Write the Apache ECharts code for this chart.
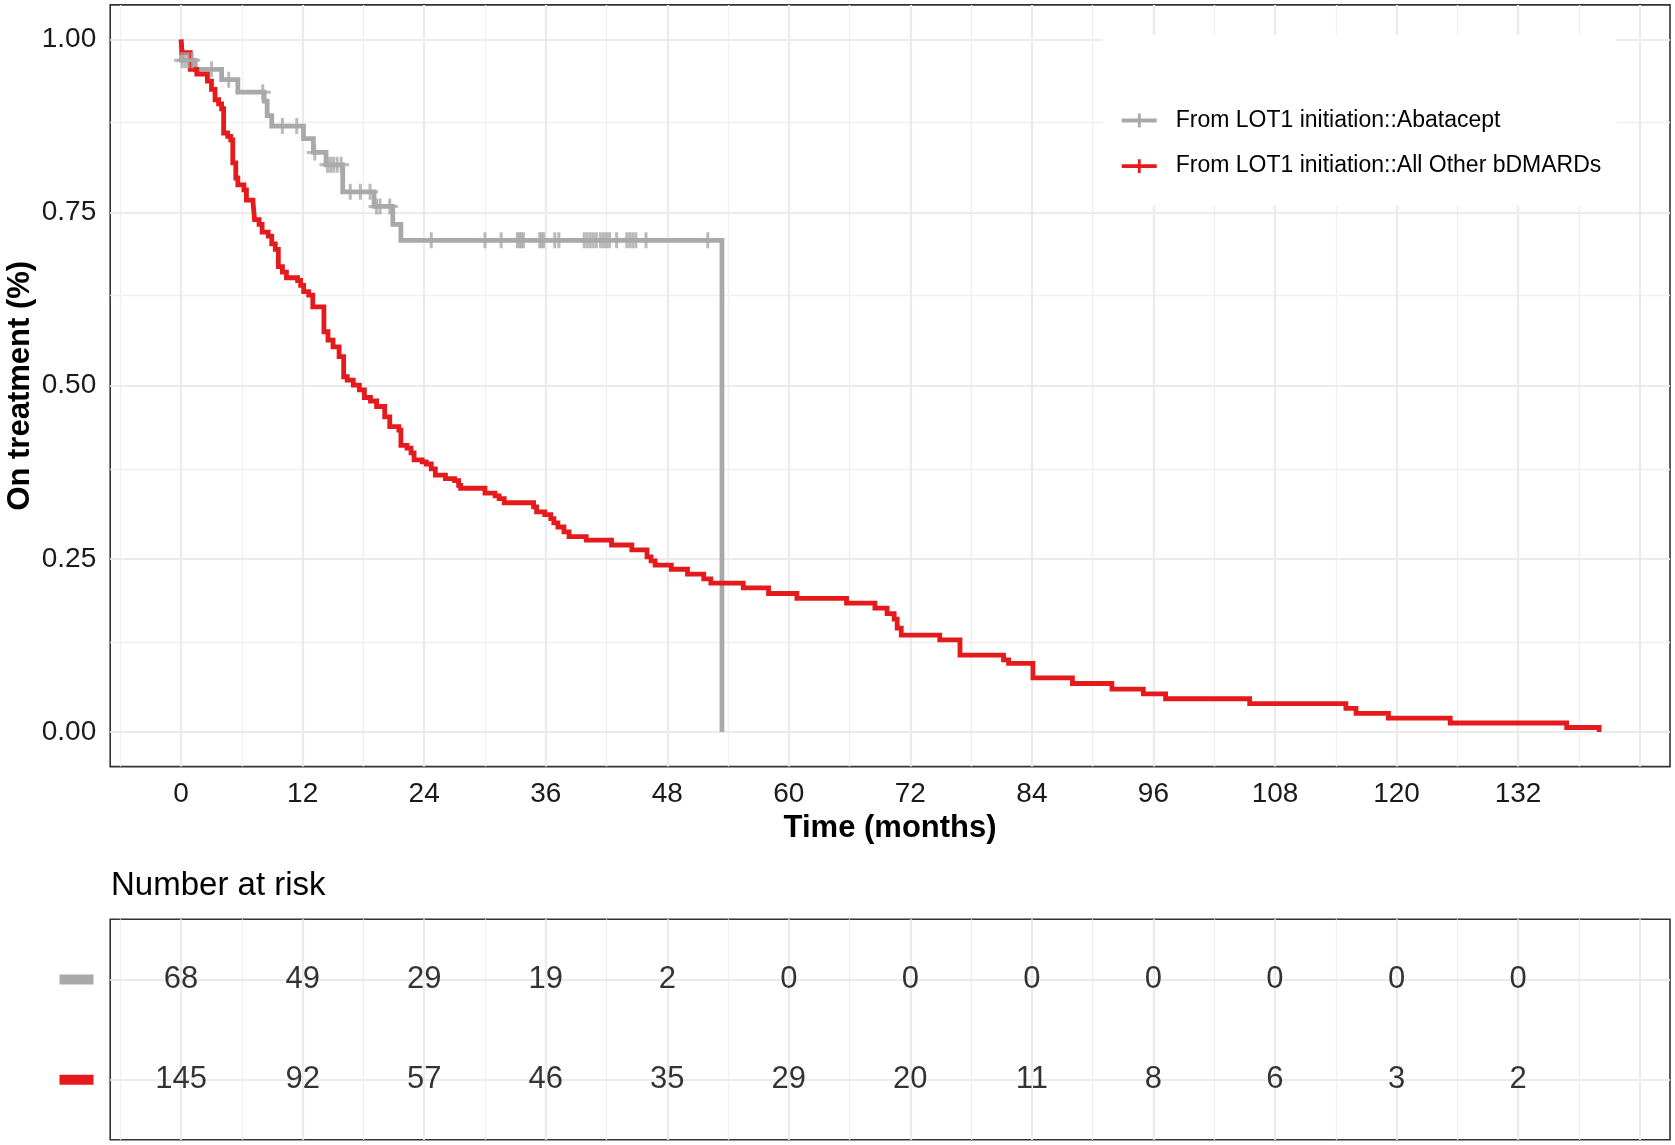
<!DOCTYPE html>
<html><head><meta charset="utf-8">
<script src="https://cdn.jsdelivr.net/npm/echarts@6/dist/echarts.min.js"></script>
<style>html,body{margin:0;padding:0;background:#fff}#c{width:1675px;height:1145px}</style>
</head><body><div id="c"></div>
<script>
// ---- tick / grid values ----
const xTicks = [0,12,24,36,48,60,72,84,96,108,120,132];
const yTicks = [0,0.25,0.5,0.75,1];
const xMajorGrid = [0,12,24,36,48,60,72,84,96,108,120,132,144];
const xMinorGrid = [-6,6,18,30,42,54,66,78,90,102,114,126,138];
const yMinorGrid = [0.125,0.375,0.625,0.875];
const riskRows = [1,2];

// ---- Kaplan-Meier: Abatacept (grey) ----
const abaTimes = [0,0.05,1.4,4.0,5.6,8.2,8.5,8.95,12.08,13.06,14.31,15.96,19.05,20.9,21.7,53.4];
const abaSurv  = [1.0,0.970,0.957,0.942,0.924,0.911,0.890,0.875,0.857,0.837,0.819,0.780,0.759,0.733,0.710,0.0];
const abaCensorTimes = [0.1,0.4,0.7,1.1,3.0,4.7,8.06,10.0,11.42,13.2,14.45,14.75,15.05,15.4,15.8,16.7,17.7,18.66,19.3,19.64,20.6,24.7,30.0,31.6,33.2,33.4,33.6,33.8,35.4,35.6,35.8,36.9,37.3,39.8,40.1,40.4,40.7,41.0,41.4,41.7,42.0,42.3,43.0,44.0,44.3,44.6,44.9,45.9,52.0];

// ---- Kaplan-Meier: All Other bDMARDs (red) ----
const othTimes = [0,0.1,0.9,1.55,2.6,3.0,3.35,3.7,4.0,4.2,4.6,4.9,5.1,5.4,5.6,6.2,6.45,7.1,7.25,7.7,8.0,8.6,8.95,9.3,9.6,10.0,10.4,11.5,11.8,12.1,12.6,13.0,14.1,14.5,15.0,15.6,16.05,16.4,17.0,17.6,18.1,18.7,19.3,20.1,20.6,21.5,21.7,22.3,22.7,23.0,23.8,24.2,24.7,25.1,26.1,27.0,27.4,27.6,30.0,31.0,31.4,31.9,34.8,35.1,35.9,36.5,36.8,37.2,37.8,38.3,40.0,42.5,44.5,46.0,46.4,46.8,48.4,50.0,51.6,52.3,55.5,58.0,60.8,65.7,68.5,69.7,70.4,70.7,71.1,74.9,76.9,81.2,81.7,84.1,88.0,91.9,95.0,97.2,105.5,115.0,116.0,119.2,125.3,136.8,140.0];
const othSurv  = [1.0,0.981,0.957,0.950,0.940,0.928,0.913,0.907,0.900,0.865,0.860,0.855,0.822,0.800,0.790,0.783,0.768,0.765,0.740,0.733,0.722,0.716,0.705,0.697,0.672,0.664,0.656,0.652,0.645,0.636,0.631,0.614,0.578,0.566,0.556,0.542,0.513,0.508,0.501,0.494,0.483,0.478,0.470,0.455,0.441,0.436,0.414,0.410,0.403,0.393,0.390,0.387,0.380,0.371,0.366,0.363,0.356,0.352,0.345,0.341,0.337,0.331,0.325,0.318,0.314,0.308,0.302,0.296,0.289,0.282,0.277,0.270,0.263,0.253,0.247,0.241,0.235,0.228,0.221,0.215,0.208,0.200,0.193,0.186,0.179,0.171,0.163,0.150,0.140,0.133,0.111,0.104,0.099,0.078,0.070,0.062,0.055,0.048,0.041,0.034,0.027,0.020,0.013,0.0065,0.0];

// ---- Number at risk ----
const riskTimes = [0,12,24,36,48,60,72,84,96,108,120,132];
const riskAba = [68,49,29,19,2,0,0,0,0,0,0,0];
const riskOth = [145,92,57,46,35,29,20,11,8,6,3,2];

const nameAba = 'From LOT1 initiation::Abatacept';
const nameOth = 'From LOT1 initiation::All Other bDMARDs';
const GREY = '#A9A9A9', RED = '#E41A1C';
const FONT = 'Liberation Sans, Arial, sans-serif';

function stepAt(times, surv, t) {
  let v = surv[0];
  for (let i = 0; i < times.length; i++) { if (times[i] <= t) v = surv[i]; }
  return v;
}
const pairs = (a, b) => a.map((t, i) => [t, b[i]]);
const plusPath = 'path://M6.5,0 h3 v16 h-3 z M0,6.5 h16 v3 h-16 z';
const legendIcon = 'path://M0,5 h35 v3.8 h-35 z M16.2,0 h2.8 v13.8 h-2.8 z';

const majorStyle = {color:'#EBEBEB', width:2.2, type:'solid'};
const minorStyle = {color:'#F0F0F0', width:1.3, type:'solid'};
function gridMarks(xs, ys, style) {
  return [].concat(xs.map(v => ({xAxis: v, lineStyle: style})), ys.map(v => ({yAxis: v, lineStyle: style})));
}
function markLineOf(data) {
  return {silent:true, z:1, zlevel:0, symbol:['none','none'], label:{show:false}, emphasis:{disabled:true}, animation:false, data: data};
}

const L = 110.2, R = 1675 - 1670, TOP0 = 4.9, H0 = 761.7, TOP1 = 919.3, H1 = 220.5;

const chart = echarts.init(document.getElementById('c'), null, {renderer:'canvas'});
chart.setOption({
  animation: false,
  backgroundColor: '#fff',
  textStyle: {fontFamily: FONT},
  title: {text:'Number at risk', left: 111, top: 869, padding: 0,
          textStyle:{fontSize:33, fontWeight:'normal', color:'#000', fontFamily: FONT}},
  legend: {
    data: [nameAba, nameOth], orient:'vertical', left: 1103, top: 35,
    padding: [74, 15, 28, 18.7], backgroundColor:'#fff', selectedMode:false, z: 20,
    icon: legendIcon, itemWidth: 35, itemHeight: 13.8, itemGap: 22.6,
    formatter: n => '{a|' + n + '}',
    textStyle: {fontSize:23, color:'#000', fontFamily: FONT,
      rich: {a: {fontSize:23, lineHeight:24, color:'#000', fontFamily: FONT, padding:[0,0,0,14]}}}
  },
  grid: [
    {left: L, right: R, top: TOP0, height: H0, show:true, borderColor:'#333', borderWidth:1.6, backgroundColor:'transparent', outerBoundsMode:'none', containLabel:false},
    {left: L, right: R, top: TOP1, height: H1, show:true, borderColor:'#333', borderWidth:1.6, backgroundColor:'transparent', outerBoundsMode:'none', containLabel:false}
  ],
  xAxis: [
    {gridIndex:0, type:'value', min:-7, max:147,
     axisLine:{show:false}, splitLine:{show:false},
     axisTick:{show:true, customValues: xTicks, length:7, lineStyle:{color:'#333', width:1.6}},
     axisLabel:{customValues: xTicks, fontSize:28, color:'#1a1a1a', margin:14, fontFamily: FONT},
     name:'Time (months)', nameLocation:'middle', nameGap:46, nameMoveOverlap:false,
     nameTextStyle:{fontSize:31, fontWeight:'bold', color:'#000', fontFamily: FONT}},
    {gridIndex:1, type:'value', min:-7, max:147,
     axisLine:{show:false}, splitLine:{show:false}, axisTick:{show:false}, axisLabel:{show:false}}
  ],
  yAxis: [
    {gridIndex:0, type:'value', min:-0.05, max:1.05,
     axisLine:{show:false}, splitLine:{show:false},
     axisTick:{show:true, customValues: yTicks, length:7, lineStyle:{color:'#333', width:1.6}},
     axisLabel:{customValues: yTicks, fontSize:28, color:'#1a1a1a', margin:14, fontFamily: FONT,
                formatter: v => Number(v).toFixed(2)},
     name:'On treatment (%)', nameLocation:'middle', nameGap:74, nameMoveOverlap:false,
     nameTextStyle:{fontSize:31, fontWeight:'bold', color:'#000', fontFamily: FONT}},
    {gridIndex:1, type:'value', min:0.4, max:2.6,
     axisLine:{show:false}, splitLine:{show:false}, axisTick:{show:false},
     axisLabel:{customValues: riskRows, margin:16.7,
       formatter: v => (Number(v) === 2 ? '{g| }' : '{r| }'),
       rich: {g:{width:34, height:10, backgroundColor:GREY}, r:{width:34, height:10, backgroundColor:RED}}}}
  ],
  series: [
    {type:'line', name:'gridMinor0', xAxisIndex:0, yAxisIndex:0, data:[], z:1, silent:true,
     markLine: markLineOf(gridMarks(xMinorGrid, yMinorGrid, minorStyle))},
    {type:'line', name:'gridMajor0', xAxisIndex:0, yAxisIndex:0, data:[], z:1, silent:true,
     markLine: markLineOf(gridMarks(xMajorGrid, yTicks, majorStyle))},
    {type:'line', name:'gridMinor1', xAxisIndex:1, yAxisIndex:1, data:[], z:1, silent:true,
     markLine: markLineOf(gridMarks(xMinorGrid, [], minorStyle))},
    {type:'line', name:'gridMajor1', xAxisIndex:1, yAxisIndex:1, data:[], z:1, silent:true,
     markLine: markLineOf(gridMarks(xMajorGrid, riskRows, majorStyle))},
    {type:'line', name: nameAba, xAxisIndex:0, yAxisIndex:0, step:'end', showSymbol:false, symbol:'none',
     data: pairs(abaTimes, abaSurv), color: GREY, itemStyle:{color:GREY}, sampling: null,
     lineStyle:{color:GREY, width:4.8, cap:'butt', join:'miter'}, z:3, silent:true},
    {type:'line', name: nameOth, xAxisIndex:0, yAxisIndex:0, step:'end', showSymbol:false, symbol:'none',
     data: pairs(othTimes, othSurv), color: RED, itemStyle:{color:RED}, sampling: null,
     lineStyle:{color:RED, width:4.8, cap:'butt', join:'miter'}, z:4, silent:true},
    {type:'scatter', name:'censorAba', xAxisIndex:0, yAxisIndex:0, symbol: plusPath, symbolSize:16,
     data: abaCensorTimes.map(t => [t, stepAt(abaTimes, abaSurv, t)]),
     itemStyle:{color:GREY}, z:5, silent:true},
    {type:'scatter', name:'riskAba', xAxisIndex:1, yAxisIndex:1, symbolSize:1, itemStyle:{color:'transparent'},
     data: riskTimes.map((t, i) => [t, 2, riskAba[i]]), z:5, silent:true,
     label:{show:true, position:'inside', formatter: p => String(p.value[2]), fontSize:31, color:'#000', fontFamily: FONT}},
    {type:'scatter', name:'riskOth', xAxisIndex:1, yAxisIndex:1, symbolSize:1, itemStyle:{color:'transparent'},
     data: riskTimes.map((t, i) => [t, 1, riskOth[i]]), z:5, silent:true,
     label:{show:true, position:'inside', formatter: p => String(p.value[2]), fontSize:31, color:'#000', fontFamily: FONT}}
  ]
});
</script></body></html>
